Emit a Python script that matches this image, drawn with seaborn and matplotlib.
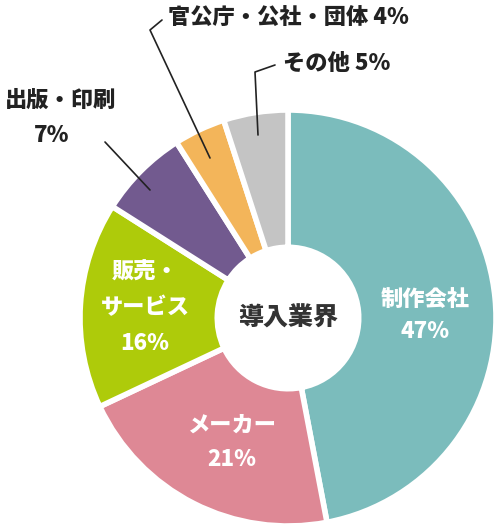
import matplotlib
matplotlib.use("Agg")
import matplotlib.pyplot as plt
import seaborn as sns

sns.set_theme(style="white")
plt.rcParams['font.family'] = ['Noto Sans CJK JP', 'DejaVu Sans']

categories = ["制作会社", "メーカー", "販売・サービス", "出版・印刷", "官公庁・公社・団体", "その他"]
values = [47, 21, 16, 7, 4, 5]
colors = ["#7bbcbc", "#de8895", "#aecb0a", "#725a8f", "#f3b55a", "#c4c4c4"]

fig = plt.figure(figsize=(5.01, 5.32), dpi=100)
ax2 = fig.add_axes([0, 0, 1, 1])
cx, cy, R = 288, 318, 208
ax2.pie(values, colors=colors, startangle=90, counterclock=False,
        center=(cx, 532 - cy), radius=R,
        wedgeprops=dict(width=R * 0.66, edgecolor="white", linewidth=4))
ax2.set_xlim(0, 501); ax2.set_ylim(0, 532); ax2.set_aspect("auto"); ax2.axis("off")

def t(x, y, s, size=16, color="white", ha="center"):
    ax2.text(x, 532 - y, s, fontsize=size, color=color, ha=ha, va="center", fontweight="black")

t(cx, 318, "導入業界", 18, "#333333")
t(425, 300, "制作会社"); t(425, 332, f"{values[0]}%")
t(232, 425, "メーカー"); t(232, 460, f"{values[1]}%")
t(145, 272, "販売・"); t(145, 308, "サービス"); t(145, 344, f"{values[2]}%")
dark = "#222222"
t(5, 100, "出版・印刷", 16, dark, "left"); t(52, 135, f"{values[3]}%", 16, dark)
t(168, 17, f"官公庁・公社・団体 {values[4]}%", 16, dark, "left")
t(283, 63, f"その他 {values[5]}%", 16, dark, "left")

def line(pts):
    ax2.plot([p[0] for p in pts], [532 - p[1] for p in pts], color=dark, lw=1.2)
line([(150, 190), (105, 142)])
line([(210, 158), (150, 30), (162, 20)])
line([(258, 135), (255, 72), (275, 65)])

fig.savefig("out.png", dpi=100)
